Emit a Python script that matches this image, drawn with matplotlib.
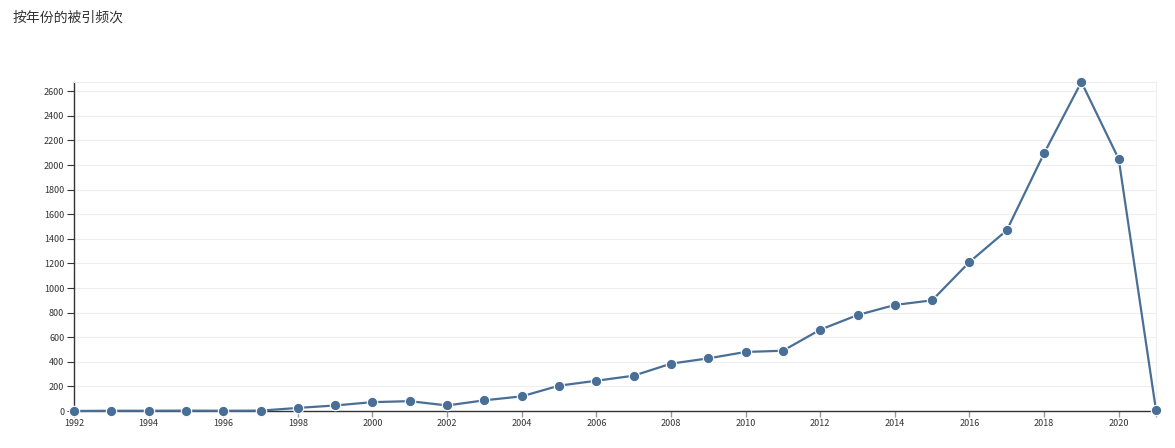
import matplotlib.pyplot as plt
import numpy as np

plt.rcParams['font.family'] = ['Noto Sans CJK SC', 'DejaVu Sans']

# Citations per year
years = list(range(1992, 2022))
citations = [0, 2, 2, 3, 2, 3, 25, 45, 72, 80, 45, 87, 119, 206, 246, 287,
             385, 428, 480, 490, 661, 780, 862, 900, 1211, 1469, 2095, 2675, 2049, 6]
title = '按年份的被引频次'

line_color = '#4a6f96'

fig = plt.figure(figsize=(11.75, 4.48), dpi=100)
ax = fig.add_axes([74 / 1175, 37 / 448, (1156 - 74) / 1175, (411 - 82) / 448])

ax.plot(years, citations, color=line_color, linewidth=1.6, marker='o',
        markersize=7.5, markeredgecolor='white', markeredgewidth=0.8,
        clip_on=False, zorder=3)

ax.set_xlim(1992, 2021)
ax.set_ylim(0, max(citations))
ax.set_yticks(np.arange(0, 2601, 200))
ax.set_xticks(list(range(1992, 2021, 2)) + [2021])
ax.set_xticklabels([str(y) for y in range(1992, 2021, 2)] + [''])

ax.grid(axis='y', color='#eeeeee', linewidth=0.8)
ax.set_axisbelow(True)
for side in ['top', 'right']:
    ax.spines[side].set_color('#eeeeee')
    ax.spines[side].set_linewidth(0.8)
for side in ['left', 'bottom']:
    ax.spines[side].set_color('#333333')
    ax.spines[side].set_linewidth(1.0)

ax.tick_params(axis='y', length=5, width=0.8, color='#333333', labelsize=6.5,
               labelcolor='#333333', pad=2)
ax.tick_params(axis='x', length=4, width=1.0, color='#999999', labelsize=6.5,
               labelcolor='#333333', pad=2)

fig.text(13 / 1175, 1 - 18 / 448, title, fontsize=10, color='#333333',
         ha='left', va='center')

fig.savefig('out.png', dpi=100)
